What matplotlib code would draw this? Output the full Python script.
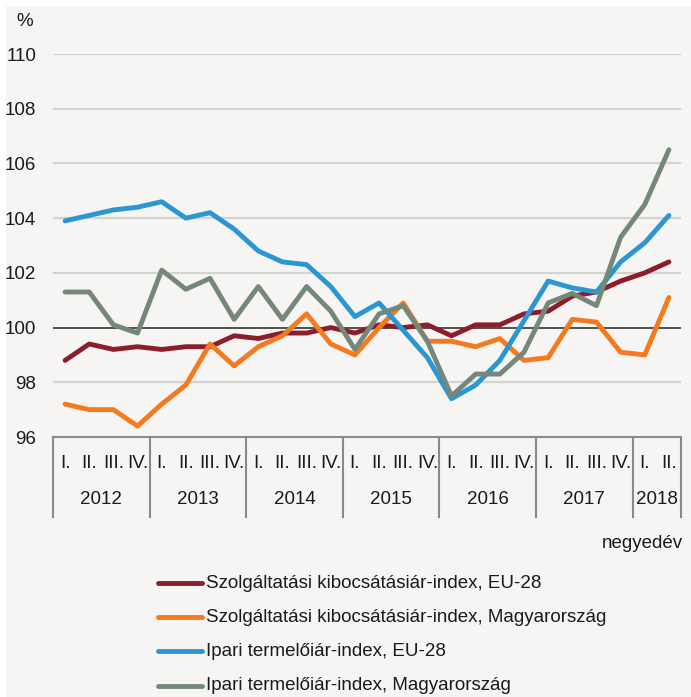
import matplotlib
matplotlib.use("Agg")
import matplotlib.pyplot as plt
import matplotlib.transforms as mtransforms
from matplotlib import font_manager
import numpy as np

# ---- data ----
years = ["2012", "2013", "2014", "2015", "2016", "2017", "2018"]
quarters_per_year = [4, 4, 4, 4, 4, 4, 2]
quarter_names = ["I.", "II.", "III.", "IV."]

eu_services = [98.8, 99.4, 99.2, 99.3, 99.2, 99.3, 99.3, 99.7, 99.6, 99.8, 99.8, 100.0,
               99.8, 100.1, 100.0, 100.1, 99.7, 100.1, 100.1, 100.5, 100.6, 101.15,
               101.3, 101.7, 102.0, 102.4]
hu_services = [97.2, 97.0, 97.0, 96.4, 97.2, 97.9, 99.4, 98.6, 99.3, 99.7, 100.5, 99.4,
               99.0, 100.0, 100.9, 99.5, 99.5, 99.3, 99.6, 98.8, 98.9, 100.3, 100.2,
               99.1, 99.0, 101.1]
eu_industry = [103.9, 104.1, 104.3, 104.4, 104.6, 104.0, 104.2, 103.6, 102.8, 102.4, 102.3,
               101.5, 100.4, 100.9, 99.9, 98.9, 97.4, 97.9, 98.8, 100.25, 101.7, 101.45,
               101.3, 102.4, 103.1, 104.1]
hu_industry = [101.3, 101.3, 100.1, 99.8, 102.1, 101.4, 101.8, 100.3, 101.5, 100.3, 101.5,
               100.6, 99.2, 100.5, 100.8, 99.5, 97.5, 98.3, 98.3, 99.1, 100.9, 101.25,
               100.8, 103.3, 104.5, 106.5]

series_labels = ["Szolgáltatási kibocsátásiár-index, EU-28",
                 "Szolgáltatási kibocsátásiár-index, Magyarország",
                 "Ipari termelőiár-index, EU-28",
                 "Ipari termelőiár-index, Magyarország"]
series = [eu_services, hu_services, eu_industry, hu_industry]
colors = ["#8B1E2B", "#F47A20", "#2A96D3", "#74877A"]
yticks = [96, 98, 100, 102, 104, 106, 108, 110]

# ---- fonts ----
avail = {f.name for f in font_manager.fontManager.ttflist}
fam = "Liberation Sans Narrow" if "Liberation Sans Narrow" in avail else "Liberation Sans"
plt.rcParams['font.family'] = [fam, "DejaVu Sans"]
FS = 13.5
TXT = "#1a1a1a"

W, H = 691, 697
fig = plt.figure(figsize=(W / 100, H / 100), dpi=100)
fig.patch.set_facecolor("white")
bg = "#F6F5F3"
fig.patches.append(plt.Rectangle((6 / W, 0), 1, 1 - 6 / H, transform=fig.transFigure,
                                 facecolor=bg, edgecolor="none", zorder=-10))

left, right, top, bottom = 53, 681, 54, 437
ax = fig.add_axes([left / W, 1 - bottom / H, (right - left) / W, (bottom - top) / H])
ax.set_facecolor("none")

n = len(eu_services)
x = np.arange(n)
for s, c in zip(series, colors):
    ax.plot(x, s, color=c, lw=3.5, solid_capstyle="round", solid_joinstyle="round", zorder=3)

ax.set_xlim(-0.5, n - 0.5)
ax.set_ylim(96, 110)
ax.set_yticks(yticks)
ax.set_yticklabels([str(t) for t in yticks], fontsize=FS, color=TXT)
ax.tick_params(axis="y", length=0, pad=12)
ax.set_xticks([])
for yv in yticks[1:]:
    if yv == 100:
        ax.axhline(yv, color="#222222", lw=1.1, zorder=2)
    else:
        ax.axhline(yv, color="#D3D3D1", lw=1.6, zorder=1)
for sp in ["top", "right", "left"]:
    ax.spines[sp].set_visible(False)
ax.spines["bottom"].set_color("#8A8A8A")
ax.spines["bottom"].set_linewidth(1.5)

# hierarchical category axis
trans = mtransforms.blended_transform_factory(ax.transData, ax.transAxes)
ah = bottom - top
y_div = -(517 - bottom) / ah
y_q = -(463 - bottom) / ah
y_y = -(499 - bottom) / ah
pos = 0
bounds = [-0.5]
for yr, nq in zip(years, quarters_per_year):
    for q in range(nq):
        ax.text(pos + q, y_q, quarter_names[q], transform=trans, ha="center", va="center",
                fontsize=FS, color=TXT)
    ax.text(pos + (nq - 1) / 2, y_y, yr, transform=trans, ha="center", va="center",
            fontsize=FS, color=TXT)
    pos += nq
    bounds.append(pos - 0.5)
for b in bounds:
    ax.plot([b, b], [0, y_div], transform=trans, color="#8A8A8A", lw=1.5, clip_on=False)

fig.text(25 / W, 1 - 22 / H, "%", ha="center", va="center", fontsize=FS, color=TXT)
fig.text(683 / W, 1 - 544 / H, "negyedév", ha="right", va="center", fontsize=FS, color=TXT)

# legend
rows = [583, 617, 651, 686]
for lab, c, ry in zip(series_labels, colors, rows):
    yf = 1 - ry / H
    fig.add_artist(plt.Line2D([158 / W, 202 / W], [yf, yf], transform=fig.transFigure,
                              color=c, lw=3.5, solid_capstyle="round"))
    fig.text(206 / W, yf, lab, ha="left", va="center", fontsize=FS, color=TXT)

fig.savefig("out.png", dpi=100, facecolor=fig.get_facecolor())
